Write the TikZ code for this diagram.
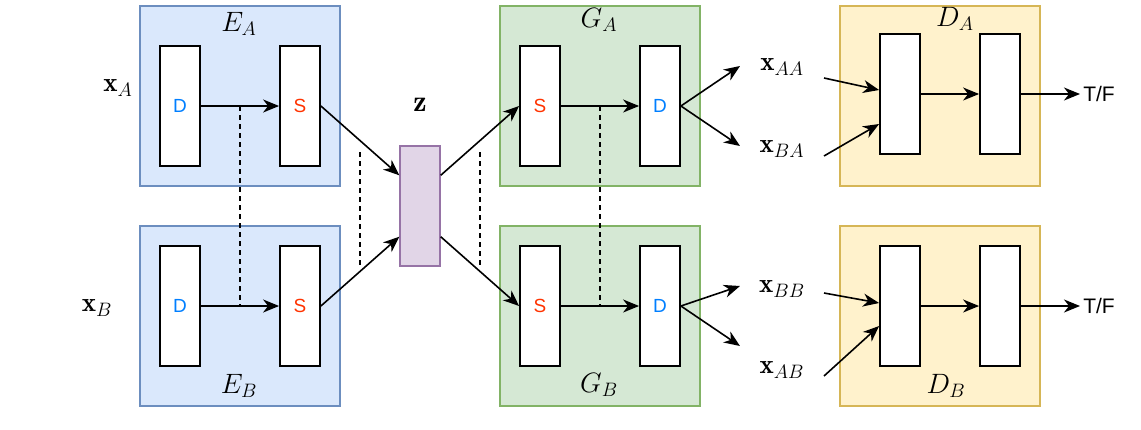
\documentclass[tikz,border=0pt]{standalone}
\usepackage{fontspec}
\newfontfamily\sansf{Liberation Sans}
\usetikzlibrary{arrows.meta,calc}
\definecolor{efill}{HTML}{DAE8FC}\definecolor{edraw}{HTML}{6C8EBF}
\definecolor{gfill}{HTML}{D5E8D4}\definecolor{gdraw}{HTML}{82B366}
\definecolor{dfill}{HTML}{FFF2CC}\definecolor{ddraw}{HTML}{D6B656}
\definecolor{zfill}{HTML}{E1D5E7}\definecolor{zdraw}{HTML}{9673A6}
\definecolor{dcol}{HTML}{007FFF}\definecolor{scol}{HTML}{FF3300}
\newcommand{\ml}[1]{\scalebox{1.35}{$#1$}}
\begin{document}
\begin{tikzpicture}[x=1pt,y=-1pt,
  outer/.style={draw, line width=1.4pt, minimum width=200pt, minimum height=180pt, inner sep=0pt},
  ebox/.style={outer, fill=efill, draw=edraw},
  gbox/.style={outer, fill=gfill, draw=gdraw},
  dbox/.style={outer, fill=dfill, draw=ddraw},
  blk/.style={draw=black, fill=white, line width=1.8pt, minimum width=40pt, minimum height=120pt, inner sep=0pt, font=\sansf\fontsize{19}{22}\selectfont},
  dblk/.style={blk, text=dcol},
  sblk/.style={blk, text=scol},
  arr/.style={-{Stealth[length=16pt,width=13pt,inset=5pt]}, line width=1.6pt},
  dsh/.style={dash pattern=on 5pt off 4pt, line width=1.6pt},
  mlab/.style={inner sep=0pt, font=\fontsize{20}{24}\selectfont},
  tf/.style={inner sep=0pt, font=\sansf\fontsize{21}{24}\selectfont}]
\useasboundingbox (0,0) rectangle (1141,429);
% outer boxes
\node[ebox] (EA) at (240,96) {};
\node[ebox] (EB) at (240,316) {};
\node[gbox] (GA) at (600,96) {};
\node[gbox] (GB) at (600,316) {};
\node[dbox] (DA) at (940,96) {};
\node[dbox] (DB) at (940,316) {};
\node[draw=zdraw, fill=zfill, line width=1.4pt, minimum width=40pt, minimum height=120pt, inner sep=0pt] (Z) at (420,206) {};
% blocks
\node[dblk] (EAd) at (180,106) {D};
\node[sblk] (EAs) at (300,106) {S};
\node[dblk] (EBd) at (180,306) {D};
\node[sblk] (EBs) at (300,306) {S};
\node[sblk] (GAs) at (540,106) {S};
\node[dblk] (GAd) at (660,106) {D};
\node[sblk] (GBs) at (540,306) {S};
\node[dblk] (GBd) at (660,306) {D};
\node[blk] (DA1) at (900,94) {};
\node[blk] (DA2) at (1000,94) {};
\node[blk] (DB1) at (900,306) {};
\node[blk] (DB2) at (1000,306) {};
% labels
\node[mlab] (lEA) at (239,24) {\ml{E_A}};
\node[mlab] (lEB) at (239,386) {\ml{E_B}};
\node[mlab] (lGA) at (599,20) {\ml{G_A}};
\node[mlab] (lGB) at (599,385) {\ml{G_B}};
\node[mlab] (lDA) at (955,19) {\ml{D_A}};
\node[mlab] (lDB) at (946,386) {\ml{D_B}};
\node[mlab] (xA) at (118,88) {\ml{\mathbf{x}_A}};
\node[mlab] (xB) at (97,308) {\ml{\mathbf{x}_B}};
\node[mlab] (lz) at (420,105) {\scalebox{1.5}{$\mathbf{z}$}};
\node[mlab] (xAA) at (782,67) {\ml{\mathbf{x}_{AA}}};
\node[mlab] (xBA) at (782,149) {\ml{\mathbf{x}_{BA}}};
\node[mlab] (xBB) at (782,289) {\ml{\mathbf{x}_{BB}}};
\node[mlab] (xAB) at (782,370) {\ml{\mathbf{x}_{AB}}};
\node[tf] (TF1) at (1099,94) {T/F};
\node[tf] (TF2) at (1099,306) {T/F};
% free coordinates
\coordinate (oAA) at (740,66);
\coordinate (oBA) at (740,146);
\coordinate (oBB) at (740,286);
\coordinate (oAB) at (740,346);
\coordinate (iAA) at (824,78);
\coordinate (iBA) at (824,156);
\coordinate (iBB) at (824,293);
\coordinate (iAB) at (824,376);
\coordinate (t1) at (1080,94);
\coordinate (t2) at (1080,306);
\coordinate (d1a) at (360,152);
\coordinate (d1b) at (360,266);
\coordinate (d2a) at (480,152);
\coordinate (d2b) at (480,266);
% dashed lines
\draw[dsh] ($(EAd.east)!0.5!(EAs.west)$) -- ($(EBd.east)!0.5!(EBs.west)$);
\draw[dsh] ($(GAs.east)!0.5!(GAd.west)$) -- ($(GBs.east)!0.5!(GBd.west)$);
\draw[dsh] (d1a) -- (d1b);
\draw[dsh] (d2a) -- (d2b);
% arrows
\draw[arr] (EAd.east) -- (EAs.west);
\draw[arr] (EBd.east) -- (EBs.west);
\draw[arr] (EAs.east) -- ($(Z.north west)+(0,30)$);
\draw[arr] (EBs.east) -- ($(Z.south west)+(0,-30)$);
\draw[arr] ($(Z.north east)+(0,30)$) -- (GAs.west);
\draw[arr] ($(Z.south east)+(0,-30)$) -- (GBs.west);
\draw[arr] (GAs.east) -- (GAd.west);
\draw[arr] (GBs.east) -- (GBd.west);
\draw[arr] (GAd.east) -- (oAA);
\draw[arr] (GAd.east) -- (oBA);
\draw[arr] (GBd.east) -- (oBB);
\draw[arr] (GBd.east) -- (oAB);
\draw[arr] (iAA) -- ($(DA1.west)+(0,-4)$);
\draw[arr] (iBA) -- ($(DA1.west)+(0,30)$);
\draw[arr] (iBB) -- ($(DB1.west)+(0,-3)$);
\draw[arr] (iAB) -- ($(DB1.west)+(0,20)$);
\draw[arr] (DA1.east) -- (DA2.west);
\draw[arr] (DB1.east) -- (DB2.west);
\draw[arr] (DA2.east) -- (t1);
\draw[arr] (DB2.east) -- (t2);
\end{tikzpicture}
\end{document}
